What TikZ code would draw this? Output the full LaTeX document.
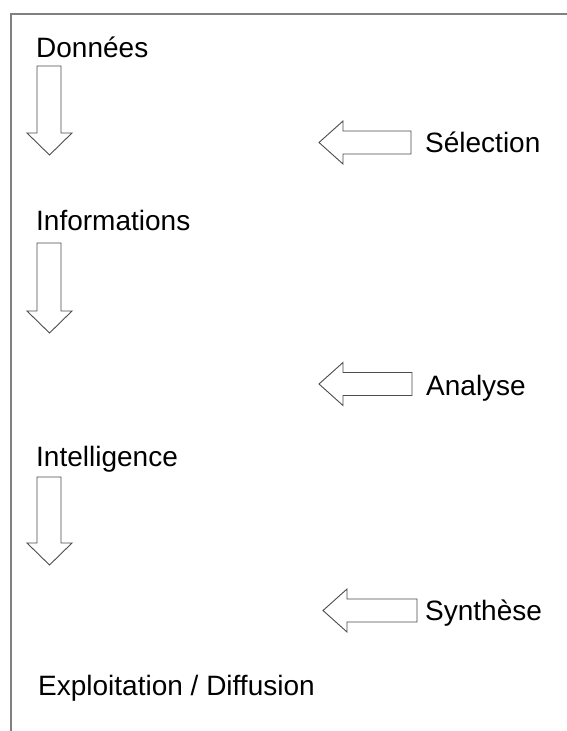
\documentclass[tikz,border=0pt]{standalone}
\usepackage{fontspec}
\setmainfont{Liberation Sans}
\begin{document}
\begin{tikzpicture}[x=1pt,y=-1pt,
  lbl/.style={anchor=base west,inner sep=0pt,font=\fontsize{28}{32}\selectfont},
  blockarrow/.style={draw=black!70,line width=0.9pt,fill=white,line join=miter},
  frameline/.style={draw=black!50,line width=1.6pt}]
\useasboundingbox (0,0) rectangle (567,731);
\draw[frameline] (11,731) -- (11,14) -- (567,14);
% left labels
\node[lbl] (don) at (36,57) {Données};
\node[lbl] (inf) at (36,230) {Informations};
\node[lbl] (int) at (36,466) {Intelligence};
\node[lbl] (exp) at (38,695) {Exploitation / Diffusion};
% right labels
\node[lbl] (sel) at (425,152) {Sélection};
\node[lbl] (ana) at (426,395) {Analyse};
\node[lbl] (syn) at (425,620) {Synthèse};
% down arrows
\foreach \t/\h/\p in {66/133/155, 243/311/333, 477/543/565}{
  \draw[blockarrow] (37,\t) -- (61,\t) -- (61,\h) -- (72,\h) -- (49.5,\p) -- (27,\h) -- (37,\h) -- cycle;
}
% left arrows
\foreach \tx/\c/\r in {319/142.5/411, 319/384/412, 323/610.5/417}{
  \draw[blockarrow] (\tx,\c) -- ({\tx+24},{\c-21.5}) -- ({\tx+24},{\c-11.5}) -- (\r,{\c-11.5}) -- (\r,{\c+11.5}) -- ({\tx+24},{\c+11.5}) -- ({\tx+24},{\c+21.5}) -- cycle;
}
\end{tikzpicture}
\end{document}
